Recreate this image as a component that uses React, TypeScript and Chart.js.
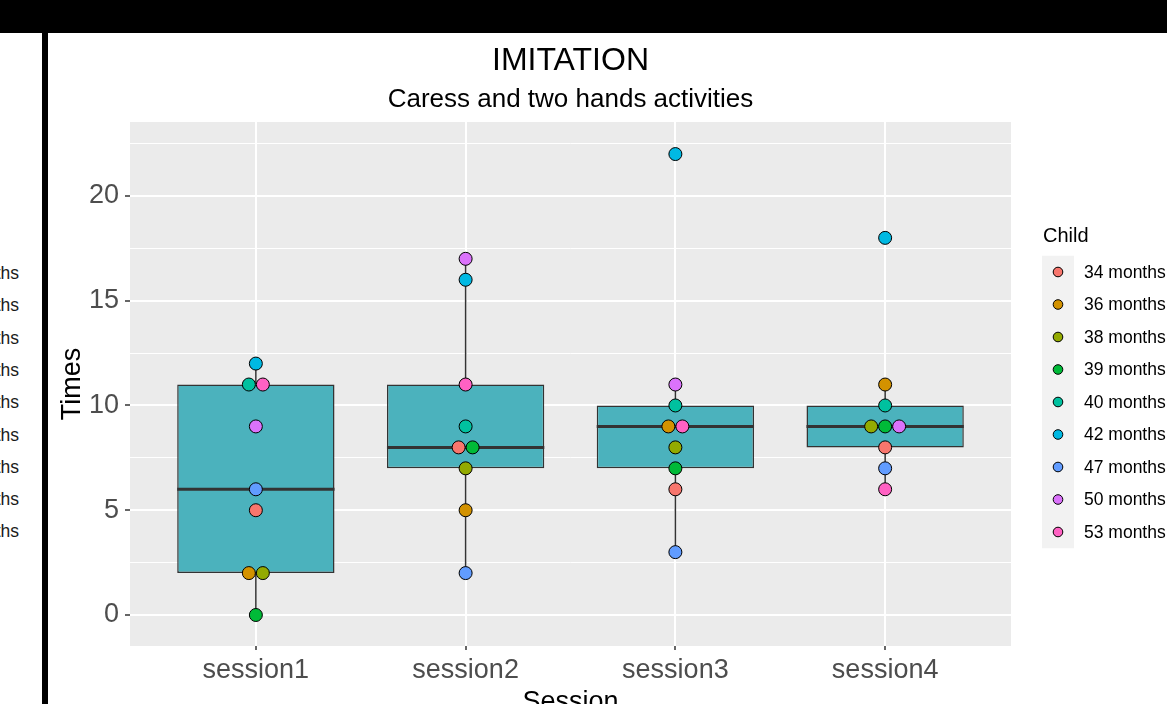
import React, { useEffect, useRef } from "react";
import { Chart, registerables } from "chart.js";

Chart.register(...registerables);

// ---------- data ----------
const SESSIONS = ["session1", "session2", "session3", "session4"];
const CHILDREN = [
  "34 months", "36 months", "38 months", "39 months", "40 months",
  "42 months", "47 months", "50 months", "53 months",
];
const CHILD_COLORS = [
  "#F8766D", "#D39200", "#93AA00", "#00BA38", "#00C19F",
  "#00B9E3", "#619CFF", "#DB72FB", "#FF61C3",
];
// Times per session (session1..session4) for each child
const TIMES_34M = [5, 8, 6, 8];
const TIMES_36M = [2, 5, 9, 11];
const TIMES_38M = [2, 7, 8, 9];
const TIMES_39M = [0, 8, 7, 9];
const TIMES_40M = [11, 9, 10, 10];
const TIMES_42M = [12, 16, 22, 18];
const TIMES_47M = [6, 2, 3, 7];
const TIMES_50M = [9, 17, 11, 9];
const TIMES_53M = [11, 11, 9, 6];

const Y_MAJOR_TICKS = [0, 5, 10, 15, 20];
const Y_MINOR_TICKS = [2.5, 7.5, 12.5, 17.5, 22.5];

const TITLE = "IMITATION";
const SUBTITLE = "Caress and two hands activities";
const X_TITLE = "Session";
const Y_TITLE = "Times";
const LEGEND_TITLE = "Child";

// ---------- style constants ----------
const FONT = "'Liberation Sans', Arial, Helvetica, sans-serif";
const PANEL_BG = "#EBEBEB";
const BOX_FILL = "#4BB2BD";
const BOX_LINE = "#333333";
const AXIS_TEXT = "#4D4D4D";
const DOT_STEP = 0.0667; // dodge step of tied dots, in session units

function quantile7(sorted: number[], p: number) {
  const h = (sorted.length - 1) * p;
  const lo = Math.floor(h);
  const hi = Math.ceil(h);
  return sorted[lo] + (h - lo) * (sorted[hi] - sorted[lo]);
}

function boxStats(values: number[]) {
  const s = [...values].sort((a, b) => a - b);
  const q1 = quantile7(s, 0.25);
  const med = quantile7(s, 0.5);
  const q3 = quantile7(s, 0.75);
  const iqr = q3 - q1;
  const lo = s.find((v) => v >= q1 - 1.5 * iqr) as number;
  const hi = [...s].reverse().find((v) => v <= q3 + 1.5 * iqr) as number;
  return { q1, med, q3, lo, hi };
}

export default function App() {
  const ref = useRef<HTMLCanvasElement>(null);

  useEffect(() => {
    const canvas = ref.current;
    if (!canvas) return;
    const series = [
      TIMES_34M, TIMES_36M, TIMES_38M, TIMES_39M, TIMES_40M,
      TIMES_42M, TIMES_47M, TIMES_50M, TIMES_53M,
    ];
    const stats = SESSIONS.map((_, si) => boxStats(series.map((s) => s[si])));

    const dodge = (ci: number, si: number) => {
      const v = series[ci][si];
      const tied = series.map((s, j) => (s[si] === v ? j : -1)).filter((j) => j >= 0);
      const k = tied.indexOf(ci);
      return (k - (tied.length - 1) / 2) * DOT_STEP;
    };

    const isMajor = (v: number) => Y_MAJOR_TICKS.includes(v);

    const boxPlugin = {
      id: "ggBox",
      beforeDraw(chart: any) {
        const { ctx, chartArea: a } = chart;
        ctx.save();
        ctx.fillStyle = PANEL_BG;
        ctx.fillRect(a.left, a.top, a.right - a.left, a.bottom - a.top);
        ctx.restore();
      },
      beforeDatasetsDraw(chart: any) {
        const { ctx } = chart;
        const xs = chart.scales.x;
        const ys = chart.scales.y;
        ctx.save();
        ctx.strokeStyle = BOX_LINE;
        ctx.lineWidth = 1.5;
        stats.forEach((st, si) => {
          const x = xs.getPixelForValue(si + 1);
          ctx.beginPath();
          ctx.moveTo(x, ys.getPixelForValue(st.q3));
          ctx.lineTo(x, ys.getPixelForValue(st.hi));
          ctx.moveTo(x, ys.getPixelForValue(st.q1));
          ctx.lineTo(x, ys.getPixelForValue(st.lo));
          ctx.stroke();
        });
        ctx.restore();
      },
      afterDatasetDraw(chart: any, args: any) {
        if (args.index !== 0) return;
        const { ctx } = chart;
        const ys = chart.scales.y;
        const meta = chart.getDatasetMeta(0);
        ctx.save();
        ctx.strokeStyle = BOX_LINE;
        ctx.lineWidth = 3;
        stats.forEach((st, si) => {
          const bar = meta.data[si];
          const { x, width } = bar.getProps(["x", "width"], true);
          const y = ys.getPixelForValue(st.med);
          ctx.beginPath();
          ctx.moveTo(x - width / 2, y);
          ctx.lineTo(x + width / 2, y);
          ctx.stroke();
        });
        ctx.restore();
      },
      afterDraw(chart: any) {
        const { ctx, chartArea: a } = chart;
        ctx.save();
        // titles
        const cx = (a.left + a.right) / 2;
        ctx.fillStyle = "#000";
        ctx.textAlign = "center";
        ctx.textBaseline = "alphabetic";
        ctx.font = `32px ${FONT}`;
        ctx.fillText(TITLE, cx, a.top - 52);
        ctx.font = `26px ${FONT}`;
        ctx.fillText(SUBTITLE, cx, a.top - 15);
        // legend
        const lx = a.right + 31;
        const keyTop = a.top + 150 - 16.25;
        const step = 32.5;
        ctx.textAlign = "left";
        ctx.font = `20px ${FONT}`;
        ctx.fillText(LEGEND_TITLE, a.right + 32, a.top + 120);
        ctx.fillStyle = "#F2F2F2";
        ctx.fillRect(lx, keyTop, 32, step * CHILDREN.length);
        ctx.font = `17.5px ${FONT}`;
        ctx.textBaseline = "middle";
        CHILDREN.forEach((name, i) => {
          const y = keyTop + step * (i + 0.5);
          ctx.beginPath();
          ctx.arc(lx + 16, y, 4.8, 0, Math.PI * 2);
          ctx.fillStyle = CHILD_COLORS[i];
          ctx.fill();
          ctx.lineWidth = 1;
          ctx.strokeStyle = "#000";
          ctx.stroke();
          ctx.fillStyle = "#000";
          ctx.fillText(name, a.right + 73, y + 1);
        });
        ctx.restore();
      },
    };

    const datasets: any[] = [
      {
        type: "bar",
        label: "box",
        data: stats.map((st, si) => ({ x: si + 1, y: [st.q1, st.q3] })),
        backgroundColor: BOX_FILL,
        borderColor: BOX_LINE,
        borderWidth: 1.5,
        borderSkipped: false,
        barPercentage: 0.75,
        categoryPercentage: 1,
        order: 10,
      },
      ...series.map((s, ci) => ({
        type: "scatter",
        label: CHILDREN[ci],
        data: s.map((v, si) => ({ x: si + 1 + dodge(ci, si), y: v })),
        backgroundColor: CHILD_COLORS[ci],
        borderColor: "#000",
        pointRadius: 6.5,
        pointBorderWidth: 1,
        pointHoverRadius: 6.5,
        order: 1,
      })),
    ];

    const chart = new Chart(canvas, {
      type: "scatter",
      data: { datasets },
      plugins: [boxPlugin],
      options: {
        animation: false,
        responsive: false,
        devicePixelRatio: 1,
        events: [],
        layout: { padding: { left: 0, top: 89, right: 156, bottom: 0 } },
        plugins: {
          legend: { display: false },
          tooltip: { enabled: false },
          title: { display: false },
        },
        scales: {
          x: {
            type: "linear",
            min: 0.4,
            max: 4.6,
            offset: false,
            afterBuildTicks: (s: any) => {
              s.ticks = SESSIONS.map((_, i) => ({ value: i + 1 }));
            },
            afterFit: (s: any) => {
              s.height = 87;
            },
            border: { display: false },
            grid: {
              offset: false,
              color: "#FFFFFF",
              lineWidth: 2,
              tickColor: BOX_LINE,
              tickLength: 4,
              tickWidth: 1.5,
            },
            ticks: {
              autoSkip: false,
              maxRotation: 0,
              padding: 4,
              color: AXIS_TEXT,
              font: { family: FONT, size: 27 },
              callback: (v: any) => SESSIONS[Math.round(Number(v)) - 1] ?? "",
            },
            title: {
              display: true,
              text: X_TITLE,
              color: "#000",
              font: { family: FONT, size: 27 },
              padding: { top: 0, bottom: 14 },
            },
          },
          y: {
            type: "linear",
            min: -1.48,
            max: 23.53,
            afterBuildTicks: (s: any) => {
              s.ticks = [...Y_MAJOR_TICKS, ...Y_MINOR_TICKS]
                .sort((a, b) => a - b)
                .map((v) => ({ value: v }));
            },
            afterFit: (s: any) => {
              s.width = 82;
            },
            border: { display: false },
            grid: {
              color: "#FFFFFF",
              lineWidth: (c: any) => (isMajor(c.tick?.value) ? 2 : 1),
              tickColor: (c: any) => (isMajor(c.tick?.value) ? BOX_LINE : "rgba(0,0,0,0)"),
              tickLength: 5,
              tickWidth: 1.5,
            },
            ticks: {
              autoSkip: false,
              padding: 6,
              color: AXIS_TEXT,
              font: { family: FONT, size: 27 },
              callback: (v: any) => (isMajor(Number(v)) ? String(v) : ""),
            },
            title: {
              display: true,
              text: Y_TITLE,
              color: "#000",
              font: { family: FONT, size: 27 },
              padding: { top: 8, bottom: 0 },
            },
          },
        },
      } as any,
    });
    return () => chart.destroy();
  }, []);

  const leftRows = CHILDREN.map((name, i) => (
    <div
      key={name}
      style={{
        position: "absolute",
        right: 22,
        top: 273 + i * 32.3 - 10,
        height: 20,
        lineHeight: "20px",
        fontSize: 17.5,
        fontFamily: FONT,
        color: "#1a1a1a",
        whiteSpace: "nowrap",
      }}
    >
      {name}
    </div>
  ));

  return (
    <div
      style={{
        position: "fixed",
        left: 0,
        top: 0,
        width: 1167,
        height: 704,
        overflow: "hidden",
        background: "#FFFFFF",
      }}
    >
      <div style={{ position: "absolute", left: 0, top: 0, width: 41, height: 704, overflow: "hidden" }}>
        {leftRows}
      </div>
      <div style={{ position: "absolute", left: 0, top: 0, width: 1167, height: 33, background: "#000" }} />
      <div style={{ position: "absolute", left: 42, top: 33, width: 6, height: 671, background: "#000" }} />
      <canvas
        ref={ref}
        width={1119}
        height={700}
        style={{ position: "absolute", left: 48, top: 33, width: 1119, height: 700, display: "block" }}
      />
    </div>
  );
}
